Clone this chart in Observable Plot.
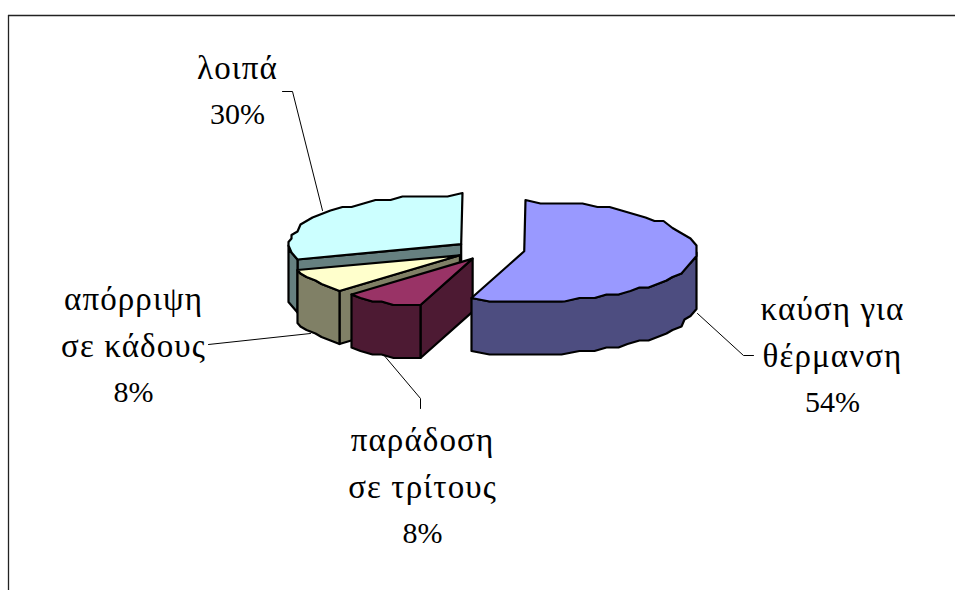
<!DOCTYPE html>
<html lang="el">
<head>
<meta charset="utf-8">
<script src="https://cdn.jsdelivr.net/npm/d3@7"></script>
<script src="https://cdn.jsdelivr.net/npm/@observablehq/plot@0.6"></script>
<style>
  html, body { margin: 0; background: #fff; }
  svg { display: block; }
</style>
</head>
<body>
<script>
// Shares of each disposal route, clockwise from twelve o'clock.
const categories = ["καύση για\nθέρμανση", "παράδοση\nσε τρίτους", "απόρριψη\nσε κάδους", "λοιπά"];
const shares = [54, 8, 8, 30];
const topColors = ["#9999ff", "#993366", "#ffffcc", "#ccffff"];
const sideColors = ["#4d4d80", "#4d1a33", "#808066", "#668080"];

// Where each label's name ends and how its leader line runs.
const labelX = [832, 422, 133, 237];
const labelY = [366, 497, 356, 78];
const leaders = [
  [[697, 313], [743, 355], [753, 355]],
  [[382, 353], [420, 398], [420, 408]],
  [[310, 333], [208, 344]],
  [[322, 210], [292, 91], [282, 91]]
];

// Tilted, exploded pie geometry.
const W = 955, H = 590;
const cx = 489, cy = 249.5;
const rx = 172, ry = 49.5;
const depth = 53;
const explode = 35;
const perspective = 0.27;
const gridX = 3, gridY = 3.5;
const step = Math.PI / 36;

const pie = d3.pie().sort(null).startAngle(0).endAngle(2 * Math.PI)(shares);

function origin(slice) {
  const mid = (slice.startAngle + slice.endAngle) / 2;
  return [cx + explode * Math.sin(mid), cy - explode * (48.5 / rx) * Math.cos(mid)];
}
// A point on a slice's rim, snapped to the coarse outline grid of the drawing.
function rimPoint(slice, a) {
  const [ox, oy] = origin(slice);
  const front = Math.max(0, -Math.cos(a));
  const x = ox + rx * Math.sin(a) * (1 + perspective * front ** 8);
  const y = oy - ry * Math.cos(a);
  return [Math.round(x / gridX) * gridX, Math.round(y / gridY) * gridY];
}
function rim(slice, a0, a1) {
  const pts = [];
  const n = Math.max(1, Math.ceil((a1 - a0) / step));
  for (let i = 0; i <= n; ++i) pts.push(rimPoint(slice, a0 + (a1 - a0) * i / n));
  return pts;
}
const down = (pts) => pts.map(([x, y]) => [x, y + depth]);
const face = (pts, fill) => Plot.line(pts, {
  x: "0", y: "1", fill, stroke: "#000", strokeWidth: 2.2,
  strokeLinejoin: "round", curve: "linear-closed"
});

// Slices are painted back to front so nearer ones cover farther ones.
const sliceMarks = [];
for (let i = pie.length - 1; i >= 0; --i) {
  const s = pie[i];
  const o = origin(s);
  const a0 = Math.max(s.startAngle, Math.PI / 2);
  const a1 = Math.min(s.endAngle, 1.5 * Math.PI);
  if (s.startAngle > Math.PI) {
    const p = rimPoint(s, s.startAngle);
    sliceMarks.push(face([o, p, [p[0], p[1] + depth], [o[0], o[1] + depth]], sideColors[i]));
  }
  if (a1 > a0) {
    const arc = rim(s, a0, a1);
    sliceMarks.push(face([...arc, ...down(arc).reverse()], sideColors[i]));
  }
  sliceMarks.push(face([o, ...rim(s, s.startAngle, s.endAngle)], topColors[i]));
}

const labels = categories.map((name, i) => ({
  name, value: `${shares[i]}%`, x: labelX[i], y: labelY[i]
}));

// The category names are set slightly wider than the percentages.
const spaced = (index, scales, values, dimensions, context, next) => {
  const g = next(index, scales, values, dimensions, context);
  g.style.letterSpacing = "1.1px";
  return g;
};

const chart = Plot.plot({
  width: W, height: H,
  margin: 0,
  x: {domain: [0, W], range: [0, W], axis: null},
  y: {domain: [0, H], range: [0, H], axis: null},
  marks: [
    Plot.ruleY([15], {x1: 8, x2: W, stroke: "#222", strokeWidth: 1.3}),
    Plot.ruleX([8], {y1: 15, y2: H, stroke: "#222", strokeWidth: 1.3}),
    ...leaders.map((pts) => Plot.line(pts, {x: "0", y: "1", stroke: "#000", strokeWidth: 1})),
    ...sliceMarks,
    Plot.text(labels, {
      x: "x", y: "y", text: "name", lineAnchor: "bottom",
      fontFamily: "Liberation Serif", fontSize: 33, lineHeight: 1.41,
      fill: "#000", textAnchor: "middle", render: spaced
    }),
    Plot.text(labels, {
      x: "x", y: "y", text: "value", lineAnchor: "top",
      fontFamily: "Liberation Serif", fontSize: 30,
      fill: "#000", textAnchor: "middle", dy: 24
    })
  ]
});
document.body.append(chart);
</script>
</body>
</html>
